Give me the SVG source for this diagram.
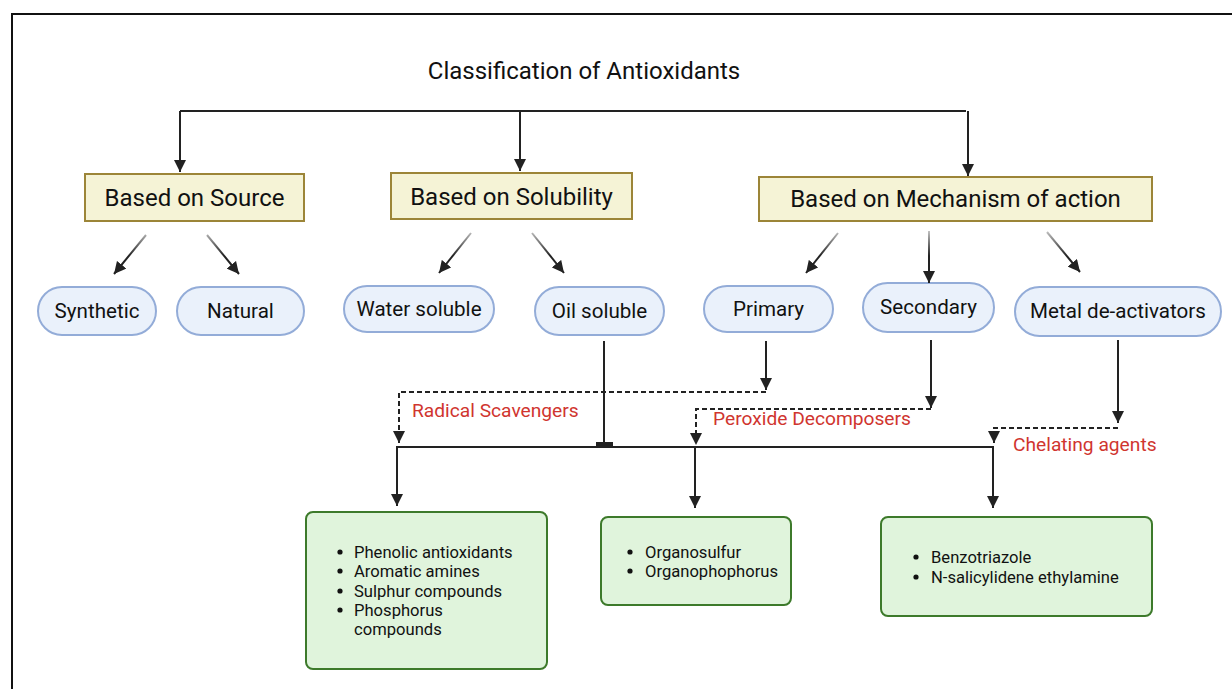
<svg xmlns="http://www.w3.org/2000/svg" width="1232" height="689" viewBox="0 0 1232 689">
  <defs>
    <marker id="ah" markerUnits="userSpaceOnUse" markerWidth="12" markerHeight="12" refX="12" refY="6" orient="auto">
      <path d="M0,0 L12,6 L0,12 Z" fill="#222"/>
    </marker>
    <linearGradient id="fade" gradientUnits="userSpaceOnUse" x1="0" y1="230" x2="0" y2="256">
      <stop offset="0" stop-color="#c8c8c8"/>
      <stop offset="1" stop-color="#222"/>
    </linearGradient>
    <style>
      text { font-family: Roboto, "Liberation Sans", sans-serif; fill: #111; }
      .title { font-size: 24px; text-anchor: middle; }
      .hdr rect { fill: #f5f3d6; stroke: #9c8538; stroke-width: 2; }
      .hdr text { font-size: 24px; text-anchor: middle; }
      .pill rect { fill: #eaf1fb; stroke: #93acd8; stroke-width: 2; }
      .pill text { font-size: 20.6px; text-anchor: middle; }
      .grn rect { fill: #e0f4dc; stroke: #3d7a2b; stroke-width: 2; }
      .grn text { font-size: 16.6px; }
      .grn circle { fill: #111; }
      .lbl { font-size: 19.2px; fill: #d0352f; }
      .ln { stroke: #222; stroke-width: 2; fill: none; }
      .fd { stroke: url(#fade); stroke-width: 2; fill: none; }
      .dash { stroke: #222; stroke-width: 2; fill: none; stroke-dasharray: 5 3; }
    </style>
  </defs>
  <rect width="1232" height="689" fill="#fff"/>
  <path d="M12,689 V14 H1232" fill="none" stroke="#111" stroke-width="2"/>

  <text id="title" class="title" x="584" y="79">Classification of Antioxidants</text>

  <g id="hdr-source" class="hdr"><rect x="85" y="174" width="219" height="47"/><text x="194.5" y="206">Based on Source</text></g>
  <g id="hdr-solubility" class="hdr"><rect x="391" y="173" width="241" height="46"/><text x="511.5" y="205">Based on Solubility</text></g>
  <g id="hdr-mechanism" class="hdr"><rect x="759" y="177" width="393" height="44"/><text x="955.5" y="207">Based on Mechanism of action</text></g>

  <g id="synthetic" class="pill"><rect x="38" y="287" width="118" height="48" rx="24"/><text x="97" y="318">Synthetic</text></g>
  <g id="natural" class="pill"><rect x="177" y="287" width="127" height="48" rx="24"/><text x="240.5" y="318">Natural</text></g>
  <g id="water" class="pill"><rect x="344" y="286" width="150" height="46" rx="23"/><text x="419" y="316">Water soluble</text></g>
  <g id="oil" class="pill"><rect x="535" y="287" width="129" height="48" rx="24"/><text x="599.5" y="318">Oil soluble</text></g>
  <g id="primary" class="pill"><rect x="704" y="286" width="129" height="46" rx="23"/><text x="768.5" y="316">Primary</text></g>
  <g id="secondary" class="pill"><rect x="863" y="283" width="131" height="49" rx="24.5"/><text x="928.5" y="314">Secondary</text></g>
  <g id="metal" class="pill"><rect x="1015" y="287" width="206" height="49" rx="24.5"/><text x="1118" y="318">Metal de-activators</text></g>

  <g id="box-radical" class="grn">
    <rect x="306" y="512" width="241" height="157" rx="7"/>
    <circle cx="340" cy="552" r="2.6"/><text x="354" y="558">Phenolic antioxidants</text>
    <circle cx="340" cy="571" r="2.6"/><text x="354" y="577">Aromatic amines</text>
    <circle cx="340" cy="591" r="2.6"/><text x="354" y="597">Sulphur compounds</text>
    <circle cx="340" cy="610" r="2.6"/><text x="354" y="616">Phosphorus</text>
    <text x="354" y="635">compounds</text>
  </g>
  <g id="box-peroxide" class="grn">
    <rect x="601" y="517" width="190" height="88" rx="7"/>
    <circle cx="630" cy="552" r="2.6"/><text x="645" y="558">Organosulfur</text>
    <circle cx="630" cy="571" r="2.6"/><text x="645" y="577">Organophophorus</text>
  </g>
  <g id="box-chelating" class="grn">
    <rect x="881" y="517" width="271" height="99" rx="7"/>
    <circle cx="916" cy="557" r="2.6"/><text x="931" y="563">Benzotriazole</text>
    <circle cx="916" cy="577" r="2.6"/><text x="931" y="583">N-salicylidene ethylamine</text>
  </g>

  <g id="connectors">
    <path class="ln" d="M180,111 H966"/>
    <path class="ln" d="M180,111 V172" marker-end="url(#ah)"/>
    <path class="ln" d="M520,111 V171" marker-end="url(#ah)"/>
    <path class="ln" d="M968,111 V176" marker-end="url(#ah)"/>

    <path class="fd" d="M146,235 L114,274" marker-end="url(#ah)"/>
    <path class="fd" d="M207,235 L239,274" marker-end="url(#ah)"/>
    <path class="fd" d="M471,233 L439,273" marker-end="url(#ah)"/>
    <path class="fd" d="M532,233 L564,273" marker-end="url(#ah)"/>
    <path class="fd" d="M838,233 L806,273" marker-end="url(#ah)"/>
    <path class="fd" d="M929,231 L929,283" marker-end="url(#ah)"/>
    <path class="fd" d="M1047,232 L1080,272" marker-end="url(#ah)"/>

    <path class="ln" d="M604,341 V445"/>
    <rect x="596" y="442" width="17" height="4" fill="#222"/>
    <path class="ln" d="M396,447 H994"/>
    <path class="ln" d="M397,447 V506" marker-end="url(#ah)"/>
    <path class="ln" d="M695,447 V508" marker-end="url(#ah)"/>
    <path class="ln" d="M993,447 V508" marker-end="url(#ah)"/>

    <path class="ln" d="M766,341 V390" marker-end="url(#ah)"/>
    <path class="dash" d="M766,392 H399 V443" marker-end="url(#ah)"/>
    <path class="ln" d="M931,340 V408" marker-end="url(#ah)"/>
    <path class="dash" d="M931,409 H696 V445" marker-end="url(#ah)"/>
    <path class="ln" d="M1118,340 V423" marker-end="url(#ah)"/>
    <path class="dash" d="M1118,428 H994 V443" marker-end="url(#ah)"/>
  </g>

  <text class="lbl" x="412" y="417">Radical Scavengers</text>
  <text class="lbl" x="713" y="425">Peroxide Decomposers</text>
  <text class="lbl" x="1013" y="451">Chelating agents</text>
</svg>
